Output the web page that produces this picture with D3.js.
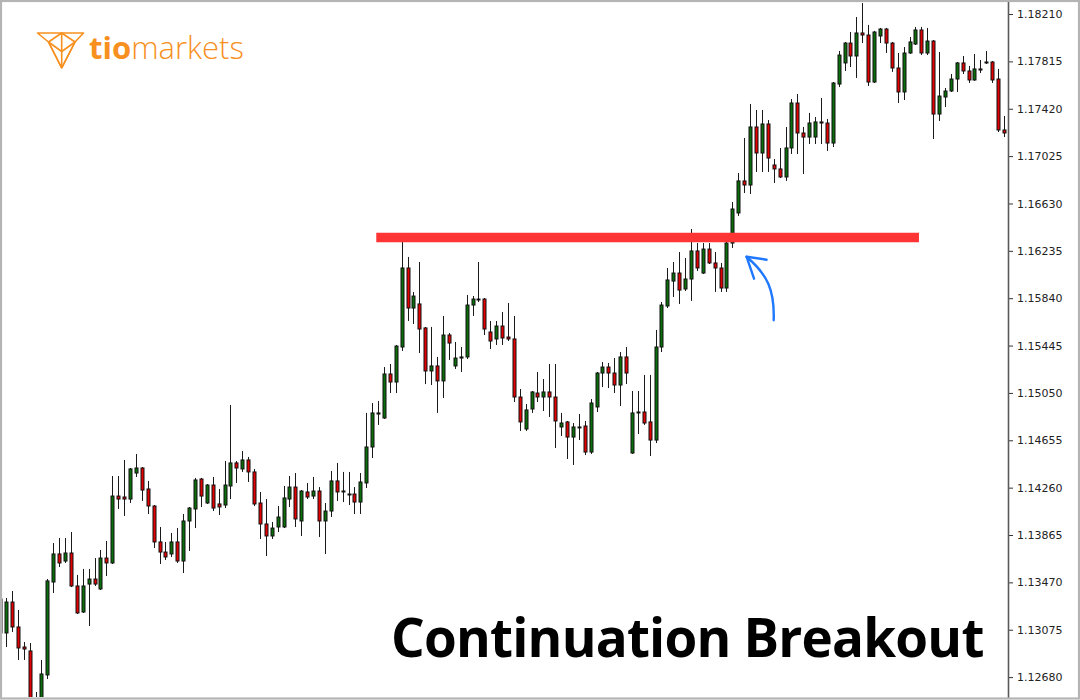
<!DOCTYPE html>
<html>
<head>
<meta charset="utf-8">
<script src="https://cdn.jsdelivr.net/npm/d3@7"></script>
<style>
  html, body { margin: 0; padding: 0; background: #fff; }
  svg { display: block; }
</style>
</head>
<body>
<svg id="chart" width="1080" height="700"></svg>
<script>
// ---------- DATA (EURUSD-style candles, prices) ----------
const openP = [1.13048,1.13048,1.13306,1.13098,1.12931,1.12898,1.12439,1.12389,1.12698,1.13473,
1.13707,1.13648,1.13715,1.13440,1.13223,1.13456,1.13498,1.13415,1.13673,1.13632,
1.14190,1.14182,1.14165,1.14382,1.14424,1.14249,1.14107,1.13807,1.13723,1.13707,
1.13807,1.13648,1.13982,1.14082,1.14332,1.14132,1.14282,1.14124,1.14115,1.14274,
1.14466,1.14416,1.14491,1.14391,1.14132,1.13957,1.13857,1.13932,1.13932,1.14165,
1.14265,1.13982,1.14224,1.14190,1.14232,1.13982,1.14065,1.14316,1.14224,1.14207,
1.14207,1.14140,1.14299,1.14599,1.14874,1.14841,1.15208,1.15141,1.15433,1.16092,
1.15758,1.15792,1.15592,1.15233,1.15275,1.15150,1.15533,1.15275,1.15341,1.15350,
1.15783,1.15825,1.15833,1.15558,1.15500,1.15608,1.15516,1.15500,1.15016,1.14749,
1.14916,1.15049,1.15016,1.15058,1.15016,1.14766,1.14808,1.14682,1.14758,1.14774,
1.14557,1.14933,1.15216,1.15266,1.15216,1.15116,1.15350,1.14549,1.14883,1.14891,
1.14808,1.14657,1.15433,1.15775,1.15983,1.16050,1.15917,1.16000,1.16234,1.16050,
1.16250,1.16134,1.16092,1.15925,1.16300,1.16551,1.16818,1.16784,1.17268,1.17051,
1.17293,1.16951,1.16918,1.16851,1.17093,1.17468,1.17218,1.17184,1.17184,1.17310,
1.17301,1.17134,1.17626,1.17802,1.17968,1.17860,1.18052,1.18035,1.17643,1.18027,
1.18085,1.17968,1.17760,1.17560,1.17885,1.17960,1.18077,1.17885,1.17985,1.17376,
1.17518,1.17568,1.17668,1.17802,1.17735,1.17660,1.17752,1.17802,1.17810,1.17668,
1.17243];
const highP = [1.13348,1.13340,1.13398,1.13240,1.12973,1.12964,1.12556,1.12823,1.13498,1.13798,
1.13840,1.13840,1.13890,1.13532,1.13582,1.13582,1.13673,1.13740,1.13815,1.14357,
1.14357,1.14491,1.14424,1.14541,1.14432,1.14316,1.14115,1.13932,1.13807,1.13882,
1.13923,1.14040,1.14099,1.14341,1.14341,1.14290,1.14349,1.14249,1.14482,1.14949,
1.14482,1.14566,1.14516,1.14416,1.14224,1.14165,1.13974,1.14107,1.14274,1.14357,
1.14382,1.14240,1.14299,1.14349,1.14265,1.14132,1.14399,1.14466,1.14391,1.14391,
1.14265,1.14382,1.14883,1.14966,1.14983,1.15266,1.15291,1.15450,1.16309,1.16184,
1.15892,1.16142,1.15600,1.15600,1.15350,1.15692,1.15550,1.15475,1.15433,1.15867,
1.15858,1.16142,1.15842,1.15650,1.15650,1.15725,1.15800,1.15692,1.15083,1.14958,
1.15066,1.15225,1.15166,1.15291,1.15291,1.14883,1.14816,1.14799,1.14874,1.14816,
1.14999,1.15225,1.15308,1.15300,1.15341,1.15391,1.15433,1.15066,1.15066,1.15200,
1.15200,1.15575,1.15808,1.16092,1.16142,1.16225,1.16175,1.16417,1.16300,1.16300,
1.16300,1.16225,1.16134,1.16309,1.16642,1.16884,1.17176,1.17460,1.17410,1.17410,
1.17326,1.17001,1.17093,1.17268,1.17501,1.17543,1.17268,1.17385,1.17351,1.17510,
1.17335,1.17643,1.17902,1.17977,1.18060,1.18185,1.18302,1.18119,1.18069,1.18094,
1.18094,1.17977,1.17885,1.17935,1.18018,1.18102,1.18102,1.18094,1.17993,1.17893,
1.17593,1.17710,1.17810,1.17860,1.17777,1.17877,1.17827,1.17902,1.17818,1.17752,
1.17360];
const lowP = [1.13023,1.12931,1.13056,1.12823,1.12823,1.12339,1.12306,1.12364,1.12664,1.13381,
1.13598,1.13632,1.13431,1.13206,1.13215,1.13106,1.13440,1.13406,1.13523,1.13623,
1.14082,1.14024,1.14132,1.14349,1.14149,1.14040,1.13757,1.13623,1.13657,1.13682,
1.13632,1.13548,1.13732,1.13923,1.14099,1.14124,1.14065,1.14032,1.14090,1.14165,
1.14299,1.14391,1.14307,1.14107,1.13832,1.13690,1.13832,1.13890,1.13923,1.14099,
1.13932,1.13857,1.14165,1.14165,1.13848,1.13707,1.14015,1.14149,1.14140,1.14115,
1.14040,1.14040,1.14257,1.14507,1.14783,1.14833,1.15049,1.15049,1.15400,1.15650,
1.15625,1.15383,1.15124,1.15116,1.14883,1.15008,1.15325,1.15250,1.15225,1.15333,
1.15692,1.15808,1.15533,1.15416,1.15450,1.15450,1.15483,1.14974,1.14733,1.14733,
1.14883,1.14974,1.14899,1.14849,1.14591,1.14691,1.14499,1.14449,1.14657,1.14532,
1.14541,1.14891,1.15099,1.15091,1.15049,1.14941,1.15124,1.14541,1.14707,1.14783,
1.14524,1.14632,1.15391,1.15758,1.15850,1.15792,1.15900,1.15817,1.16067,1.16042,
1.16125,1.15892,1.15892,1.15892,1.16259,1.16526,1.16717,1.16709,1.16893,1.16893,
1.16893,1.16801,1.16843,1.16818,1.17043,1.17043,1.16876,1.17126,1.17126,1.17126,
1.17068,1.17101,1.17601,1.17735,1.17768,1.17677,1.17968,1.17610,1.17635,1.17968,
1.17885,1.17727,1.17468,1.17493,1.17877,1.17952,1.17868,1.17868,1.17168,1.17318,
1.17435,1.17560,1.17560,1.17710,1.17635,1.17652,1.17718,1.17793,1.17635,1.17226,
1.17184];
const closeP = [1.13331,1.13306,1.13098,1.12923,1.12914,1.12389,1.12389,1.12706,1.13482,1.13707,
1.13632,1.13715,1.13440,1.13215,1.13440,1.13498,1.13456,1.13673,1.13632,1.14190,
1.14165,1.14165,1.14416,1.14424,1.14240,1.14107,1.13807,1.13723,1.13682,1.13807,
1.13648,1.13982,1.14090,1.14324,1.14190,1.14282,1.14090,1.14099,1.14282,1.14466,
1.14424,1.14491,1.14391,1.14124,1.13957,1.13857,1.13923,1.14015,1.14174,1.14265,
1.13999,1.14232,1.14182,1.14232,1.13982,1.14065,1.14316,1.14224,1.14232,1.14199,
1.14140,1.14307,1.14599,1.14883,1.14883,1.15208,1.15141,1.15441,1.16092,1.15758,
1.15858,1.15583,1.15233,1.15275,1.15150,1.15533,1.15466,1.15341,1.15350,1.15783,
1.15833,1.15833,1.15583,1.15483,1.15608,1.15508,1.15500,1.15016,1.14808,1.14908,
1.15058,1.15016,1.15058,1.15016,1.14816,1.14799,1.14682,1.14766,1.14766,1.14557,
1.14966,1.15216,1.15266,1.15216,1.15116,1.15350,1.15216,1.14883,1.14891,1.14799,
1.14657,1.15433,1.15783,1.15992,1.16050,1.15908,1.16000,1.16234,1.16092,1.16250,
1.16134,1.16092,1.15925,1.16300,1.16584,1.16818,1.16784,1.17268,1.17051,1.17293,
1.17009,1.16918,1.16851,1.17093,1.17468,1.17218,1.17184,1.17301,1.17310,1.17301,
1.17134,1.17635,1.17868,1.17968,1.17860,1.18052,1.18035,1.17643,1.18060,1.18085,
1.17968,1.17760,1.17560,1.17885,1.17977,1.18077,1.17885,1.17985,1.17376,1.17526,
1.17568,1.17668,1.17802,1.17735,1.17660,1.17752,1.17743,1.17810,1.17660,1.17243,
1.17218];

const tickLabels = ["1.18210","1.17815","1.17420","1.17025","1.16630","1.16235","1.15840",
  "1.15445","1.15050","1.14655","1.14260","1.13865","1.13470","1.13075","1.12680"];

const resistanceLevel = 1.16346;       // red breakout line
const resistanceSpan = [63.7, 155.6];  // candle indices covered by the line
const arrowFrom = [131, 1.15656];      // blue arrow (index, price)
const arrowTo = [126.4, 1.16186];
const titleText = "Continuation Breakout";

// ---------- LAYOUT ----------
const W = 1080, H = 700;
const plotRight = 1008;
const svg = d3.select("#chart");

const candles = openP.map((o, i) => ({ i, o, h: highP[i], l: lowP[i], c: closeP[i] }));

const x = d3.scaleLinear().domain([0, candles.length - 1]).range([0.1, 1004]);
const y = d3.scaleLinear().domain([1.12489, 1.18327]).range([H, 0]);

svg.append("rect").attr("width", W).attr("height", H).attr("fill", "#fff");

svg.append("defs").append("clipPath").attr("id", "plotClip")
  .append("rect").attr("x", 2).attr("y", 2).attr("width", plotRight - 2).attr("height", H - 5);

const plot = svg.append("g").attr("clip-path", "url(#plotClip)");

// wicks
plot.append("g").selectAll("line").data(candles).join("line")
  .attr("x1", d => Math.round(x(d.i)) + 0.5)
  .attr("x2", d => Math.round(x(d.i)) + 0.5)
  .attr("y1", d => y(d.h))
  .attr("y2", d => y(d.l))
  .attr("stroke", "#1a1a1a")
  .attr("stroke-width", 1);

// bodies
plot.append("g").selectAll("rect").data(candles).join("rect")
  .attr("x", d => Math.round(x(d.i)) - 1)
  .attr("width", 3)
  .attr("y", d => y(Math.max(d.o, d.c)))
  .attr("height", d => Math.max(0.6, Math.abs(y(d.o) - y(d.c))))
  .attr("fill", d => d.c >= d.o ? "#0a6e0a" : "#e40000")
  .attr("stroke", "#111")
  .attr("stroke-width", 1);

// resistance line
plot.append("line")
  .attr("x1", x(resistanceSpan[0])).attr("x2", x(resistanceSpan[1]))
  .attr("y1", y(resistanceLevel)).attr("y2", y(resistanceLevel))
  .attr("stroke", "#ff3434").attr("stroke-width", 9.5);

// blue curved arrow
const ax0 = x(arrowFrom[0]), ay0 = y(arrowFrom[1]);
const ax1 = x(arrowTo[0]), ay1 = y(arrowTo[1]);
svg.append("path")
  .attr("d", `M${ax0},${ay0} C${ax0 + 1},${ay0 - 30} ${ax0 - 6},${ay1 + 18} ${ax1},${ay1}`)
  .attr("fill", "none").attr("stroke", "#1f78ff").attr("stroke-width", 2.4).attr("stroke-linecap", "round");
svg.append("path")
  .attr("d", `M${ax1 + 20},${ay1 + 3} L${ax1},${ay1} L${ax1 + 7.5},${ay1 + 22}`)
  .attr("fill", "none").attr("stroke", "#1f78ff").attr("stroke-width", 2.4)
  .attr("stroke-linecap", "round").attr("stroke-linejoin", "round");

// right price axis
const axis = d3.axisRight(y)
  .tickValues(tickLabels.map(Number))
  .tickFormat((d, i) => tickLabels[i])
  .tickSizeOuter(0)
  .tickSize(5)
  .tickPadding(4);
const ag = svg.append("g").attr("transform", `translate(${plotRight},0)`).call(axis);
ag.select(".domain").remove();
ag.selectAll(".tick line").attr("stroke", "#333");
ag.selectAll(".tick text")
  .attr("font-family", "'DejaVu Sans', Verdana, sans-serif")
  .attr("font-size", 11).attr("fill", "#222");
svg.append("line").attr("x1", plotRight + 0.5).attr("x2", plotRight + 0.5)
  .attr("y1", 2).attr("y2", H - 2).attr("stroke", "#5a5a5a").attr("stroke-width", 1.6);

// title
svg.append("text")
  .attr("x", 391).attr("y", 657)
  .attr("font-family", "'Open Sans', sans-serif")
  .attr("font-weight", 700).attr("font-size", 53).attr("letter-spacing", -0.8).attr("fill", "#000")
  .text(titleText);

// logo
const logo = svg.append("g").attr("fill", "none").attr("stroke", "#f7901e")
  .attr("stroke-width", 1.6).attr("stroke-linejoin", "round");
logo.append("path").attr("d", "M37.5,33 L83.5,33 L75,42 L61.7,68 L48.5,42 Z");
logo.append("path").attr("d", "M61.7,33 L48.5,42 L61.7,51.5 L75,42 Z");
logo.append("path").attr("d", "M61.7,33 L61.7,68");
logo.append("path").attr("d", "M48.5,42 L61.7,68 M75,42 L61.7,68");
const lt = svg.append("text").attr("x", 89).attr("y", 59)
  .attr("font-family", "'Open Sans', sans-serif").attr("font-size", 31).attr("fill", "#f7901e");
lt.append("tspan").attr("font-weight", 700).text("tio");
lt.append("tspan").attr("font-weight", 300).text("markets");

// frame
svg.append("rect").attr("x", 1).attr("y", 1).attr("width", W - 2).attr("height", H - 2.5)
  .attr("fill", "none").attr("stroke", "#b4b4b4").attr("stroke-width", 2.2);
</script>
</body>
</html>
